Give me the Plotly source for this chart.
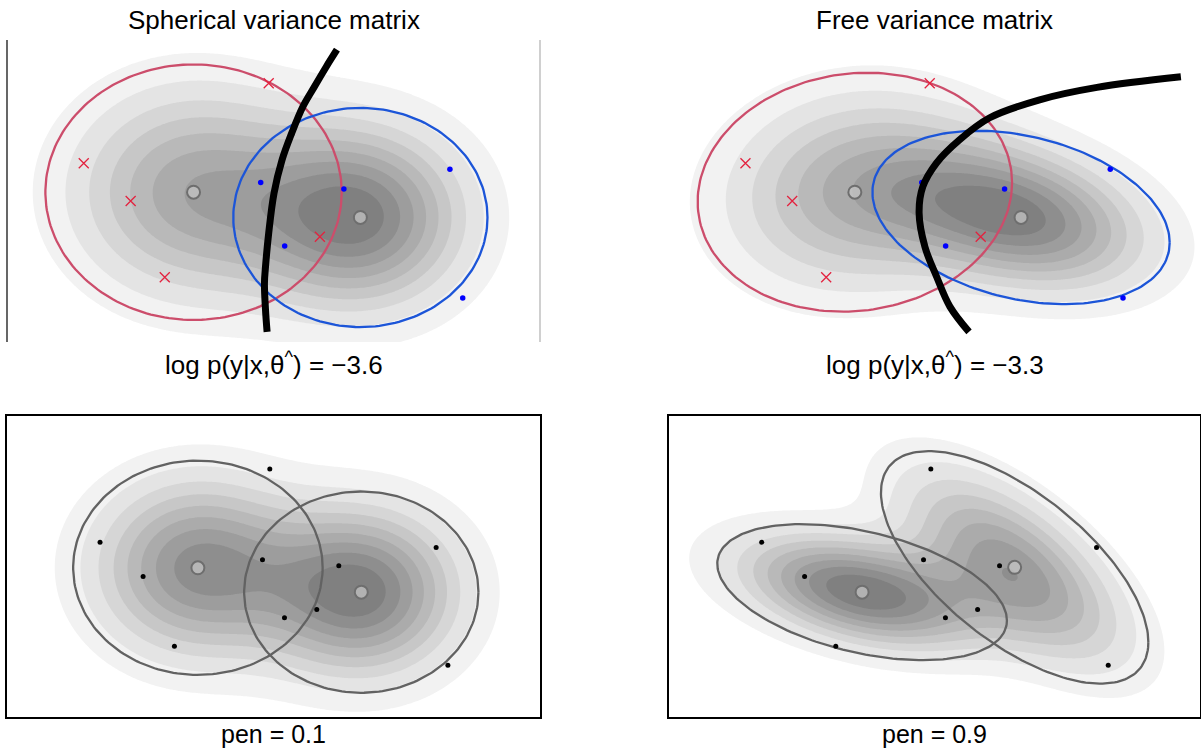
import numpy as np
import plotly.graph_objects as go

W, H = 1201, 750

# ---------------- observations (same ten points in every panel) ----------------
cross_x = [1.44, 2.32, 2.96, 4.91, 5.87]
cross_y = [3.89, 3.07, 1.41, 5.63, 2.29]
dot_x = [4.76, 6.32, 5.21, 8.31, 8.55]
dot_y = [3.47, 3.33, 2.09, 3.76, 0.96]

# ---------------- fitted two-component mixtures ----------------
weights = [0.5, 0.5]
tl_means = [[3.50, 3.26], [6.63, 2.71]]
tl_covs = [[[2.401, 0.0], [0.0, 2.401]], [[1.767, 0.0], [0.0, 1.767]]]
tr_means = [[3.50, 3.26], [6.63, 2.71]]
tr_covs = [[[2.723, 0.190], [0.190, 2.101]], [[2.434, -0.476], [-0.476, 1.105]]]
bl_means = [[3.44, 3.28], [6.78, 2.70]]
bl_covs = [[[2.020, 0.0], [0.0, 2.020]], [[1.782, 0.0], [0.0, 1.782]]]
br_means = [[3.50, 2.70], [6.63, 3.29]]
br_covs = [[[2.743, -0.623], [-0.623, 0.814]], [[2.338, -1.517], [-1.517, 2.380]]]
ellipse_prob = 0.8

# ---------------- decision boundaries ----------------
tl_bnd_x = [6.19, 5.99, 5.77, 5.55, 5.34, 5.16, 5.01, 4.91, 4.85, 4.83, 4.85, 4.88]
tl_bnd_y = [6.36, 5.99, 5.56, 5.12, 4.54, 3.96, 3.24, 2.37, 1.64, 1.28, 0.70, 0.22]
tr_bnd_x = [9.64, 8.06, 6.98, 6.04, 5.47, 5.04, 4.78, 4.71, 4.82, 5.04, 5.29, 5.65]
tr_bnd_y = [5.77, 5.54, 5.27, 4.88, 4.40, 3.90, 3.38, 2.81, 2.07, 1.42, 0.77, 0.22]

# ---------------- texts ----------------
titles = ["Spherical variance matrix", "Free variance matrix"]
loglik = ["\u22123.6", "\u22123.3"]
pens = ["0.1", "0.9"]

# ---------------- layout geometry ----------------
top_xr, top_yr = [0.0, 10.0], [0.0, 6.572]
bot_xr, bot_yr = [-0.462, 10.433], [-0.271, 6.892]
col_px = [(7, 540), (669, 1200)]
row_px = [(40, 342), (416, 717)]

GRAYS = [242, 228, 214, 199, 185, 171, 157, 142, 128]
colorscale = [[0.0, "rgb(255,255,255)"]] + [
    [(i + 1) / 9.0, "rgb(%d,%d,%d)" % (g, g, g)] for i, g in enumerate(GRAYS)
]


def gauss(X, Y, m, S):
    S = np.array(S, float)
    inv = np.linalg.inv(S)
    dx, dy = X - m[0], Y - m[1]
    q = inv[0, 0] * dx * dx + 2 * inv[0, 1] * dx * dy + inv[1, 1] * dy * dy
    return np.exp(-0.5 * q) / (2 * np.pi * np.sqrt(np.linalg.det(S)))


def ellipse(m, S, n=200):
    c = np.sqrt(-2 * np.log(1 - ellipse_prob))
    L = np.linalg.cholesky(np.array(S, float))
    t = np.linspace(0, 2 * np.pi, n)
    u = np.vstack([np.cos(t), np.sin(t)]) * c
    p = L @ u
    return m[0] + p[0], m[1] + p[1]


fig = go.Figure()

panels = [
    dict(means=tl_means, covs=tl_covs, xr=top_xr, yr=top_yr, col=0, row=0, kind="top", bnd=(tl_bnd_x, tl_bnd_y)),
    dict(means=tr_means, covs=tr_covs, xr=top_xr, yr=top_yr, col=1, row=0, kind="top", bnd=(tr_bnd_x, tr_bnd_y)),
    dict(means=bl_means, covs=bl_covs, xr=bot_xr, yr=bot_yr, col=0, row=1, kind="bot", bnd=None),
    dict(means=br_means, covs=br_covs, xr=bot_xr, yr=bot_yr, col=1, row=1, kind="bot", bnd=None),
]

RED_LINE = "#cc4d6b"
BLUE_LINE = "#1c55d8"

for k, P in enumerate(panels):
    ax = "" if k == 0 else str(k + 1)
    xa, ya = "x" + ax, "y" + ax
    gx = np.linspace(P["xr"][0], P["xr"][1], 260)
    gy = np.linspace(P["yr"][0], P["yr"][1], 180)
    X, Y = np.meshgrid(gx, gy)
    Z = sum(w * gauss(X, Y, m, S) for w, m, S in zip(weights, P["means"], P["covs"]))
    Z = 10 * Z / Z.max()
    fig.add_trace(go.Contour(
        x=gx, y=gy, z=Z, xaxis=xa, yaxis=ya,
        contours=dict(start=1, end=9, size=1, coloring="fill", showlines=False),
        line=dict(width=0), colorscale=colorscale, showscale=False,
        hoverinfo="skip", line_smoothing=1.0,
    ))
    # component ellipses
    for j, (m, S) in enumerate(zip(P["means"], P["covs"])):
        ex, ey = ellipse(m, S)
        if P["kind"] == "top":
            col = RED_LINE if j == 0 else BLUE_LINE
        else:
            col = "#626262"
        fig.add_trace(go.Scatter(x=ex, y=ey, mode="lines", xaxis=xa, yaxis=ya,
                                 line=dict(color=col, width=2.3), hoverinfo="skip"))
    # observations
    if P["kind"] == "top":
        fig.add_trace(go.Scatter(x=cross_x, y=cross_y, mode="markers", xaxis=xa, yaxis=ya,
                                 marker=dict(symbol="x-thin", size=10, line=dict(color="#e3223f", width=1.3)),
                                 hoverinfo="skip"))
        fig.add_trace(go.Scatter(x=dot_x, y=dot_y, mode="markers", xaxis=xa, yaxis=ya,
                                 marker=dict(symbol="circle", size=5.5, color="#0000ff"), hoverinfo="skip"))
    else:
        fig.add_trace(go.Scatter(x=cross_x + dot_x, y=cross_y + dot_y, mode="markers", xaxis=xa, yaxis=ya,
                                 marker=dict(symbol="circle", size=5, color="#000000"), hoverinfo="skip"))
    # component means
    fig.add_trace(go.Scatter(x=[m[0] for m in P["means"]], y=[m[1] for m in P["means"]],
                             mode="markers", xaxis=xa, yaxis=ya,
                             marker=dict(symbol="circle", size=13, color="rgba(200,200,200,0.7)",
                                         line=dict(color="#6e6e6e", width=2)), hoverinfo="skip"))
    # decision boundary
    if P["bnd"] is not None:
        fig.add_trace(go.Scatter(x=P["bnd"][0], y=P["bnd"][1], mode="lines", xaxis=xa, yaxis=ya,
                                 line=dict(color="black", width=7, shape="spline", smoothing=1.0),
                                 hoverinfo="skip"))

layout = dict(width=W, height=H, margin=dict(l=0, r=0, t=0, b=0),
              paper_bgcolor="white", plot_bgcolor="white", showlegend=False,
              font=dict(family="Liberation Sans, Arial, sans-serif", size=26, color="black"))

for k, P in enumerate(panels):
    ax = "" if k == 0 else str(k + 1)
    c0, c1 = col_px[P["col"]]
    r0, r1 = row_px[P["row"]]
    boxed = P["kind"] == "bot"
    layout["xaxis" + ax] = dict(domain=[c0 / W, c1 / W], range=P["xr"], showgrid=False, zeroline=False,
                                showticklabels=False, ticks="", anchor="y" + ax,
                                showline=boxed, mirror=boxed, linecolor="black", linewidth=1.5)
    layout["yaxis" + ax] = dict(domain=[1 - r1 / H, 1 - r0 / H], range=P["yr"], showgrid=False, zeroline=False,
                                showticklabels=False, ticks="", anchor="x" + ax,
                                showline=boxed, mirror=boxed, linecolor="black", linewidth=1.5)

fig.update_layout(**layout)

# partial frame of the first panel
fig.add_shape(type="line", xref="x domain", yref="y domain", x0=0, x1=0, y0=0, y1=1,
              line=dict(color="black", width=1.2))
fig.add_shape(type="line", xref="x domain", yref="y domain", x0=1, x1=1, y0=0, y1=1,
              line=dict(color="#b0b0b0", width=1.2))

ann = []
for i in range(2):
    cx = (col_px[i][0] + col_px[i][1]) / 2 / W
    ann.append(dict(text=titles[i], x=cx, y=1 - 20 / H, xref="paper", yref="paper",
                    showarrow=False, xanchor="center", yanchor="middle"))
    ann.append(dict(text="log p(y|x,\u03b8<sup>^</sup>) = " + loglik[i], x=cx, y=1 - 363 / H,
                    xref="paper", yref="paper", showarrow=False, xanchor="center", yanchor="middle"))
    ann.append(dict(text="pen = " + pens[i], x=cx, y=1 - 734 / H, xref="paper", yref="paper",
                    showarrow=False, xanchor="center", yanchor="middle", borderpad=0,
                    font=dict(size=25)))
fig.update_layout(annotations=ann)

fig.write_html("out.html")
